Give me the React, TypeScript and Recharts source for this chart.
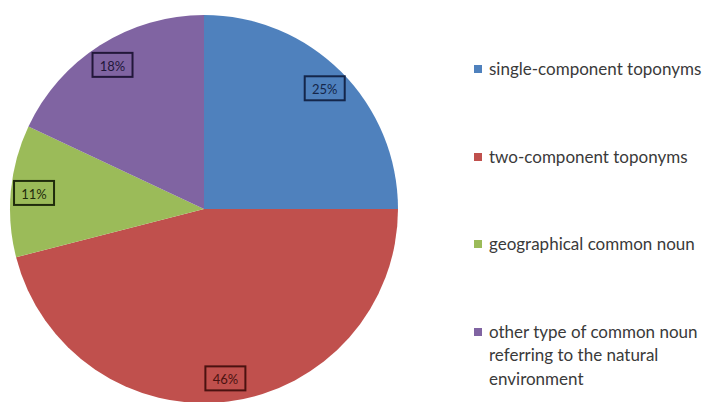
import React from 'react';
import { PieChart, Pie, Cell, Legend } from 'recharts';

const categories = [
  'single-component toponyms',
  'two-component toponyms',
  'geographical common noun',
  'other type of common noun referring to the natural environment',
];
const shares = [25, 46, 11, 18];
const COLORS = ['#4F81BD', '#C0504D', '#9BBB59', '#8064A2'];
const DARK = ['#14264a', '#4a1210', '#1f2b0c', '#22173a'];

const data = categories.map((name, i) => ({ name, value: shares[i] }));

const RAD = Math.PI / 180;

const BoxLabel = (props: any) => {
  const { cx, cy, midAngle, outerRadius, value, index } = props;
  const r = outerRadius * 0.88;
  const x = cx + r * Math.cos(-midAngle * RAD);
  const y = cy + r * Math.sin(-midAngle * RAD);
  return (
    <g>
      <rect x={x - 20} y={y - 12} width={40} height={24} fill="none" stroke={DARK[index]} strokeWidth={2} />
      <text
        x={x}
        y={y + 1}
        textAnchor="middle"
        dominantBaseline="central"
        fontSize={13}
        fontFamily="Lato, sans-serif"
        fill={DARK[index]}
      >
        {value}%
      </text>
    </g>
  );
};

// legend keeps the series order (recharts would sort it by name)
const LegendList = () => (
  <div style={{ fontFamily: 'Lato, sans-serif', fontSize: 17, color: '#3a3a3a', lineHeight: '23.5px' }}>
    {categories.map((name, i) => (
      <div key={name} style={{ display: 'flex', alignItems: 'flex-start', height: 87.5 }}>
        <span
          style={{
            width: 8,
            height: 8,
            marginTop: 8,
            marginRight: 7,
            background: COLORS[i],
            flex: 'none',
          }}
        />
        <span style={{ width: 222 }}>{name}</span>
      </div>
    ))}
  </div>
);

export default function App() {
  return (
    <div style={{ position: 'absolute', left: 0, top: 0, background: '#fff' }}>
      <PieChart width={704} height={402} margin={{ top: 0, right: 0, bottom: 0, left: 0 }}>
        <Pie
          data={data}
          dataKey="value"
          nameKey="name"
          cx={204}
          cy={209}
          outerRadius={194}
          startAngle={90}
          endAngle={-270}
          stroke="none"
          labelLine={false}
          label={BoxLabel}
          isAnimationActive={false}
        >
          {data.map((_, i) => (
            <Cell key={i} fill={COLORS[i]} />
          ))}
        </Pie>
        <Legend
          layout="vertical"
          content={LegendList}
          wrapperStyle={{ left: 474, top: 57, width: 230 }}
        />
      </PieChart>
    </div>
  );
}
